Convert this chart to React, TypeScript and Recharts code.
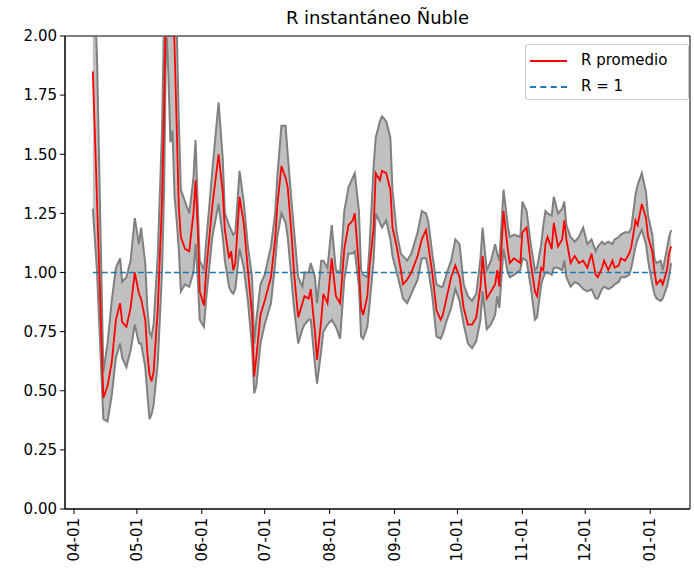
import React from 'react';
import {
    ComposedChart,
    Area,
    Line,
    XAxis,
    YAxis,
    ReferenceLine,
    ReferenceArea,
} from 'recharts';

/* ─── Data (day 0 = 1 April) ───────────────────────────────────────────────── */
const DAYS = [
    9, 11, 14, 16, 18, 20, 22, 23, 25, 27,
    29, 31, 32, 34, 35, 36, 37, 38, 40, 42,
    43, 44, 45, 46, 47, 48, 49, 50, 51, 53,
    55, 57, 58, 59, 60, 62, 63, 66, 69, 71,
    72, 74, 75, 76, 77, 79, 81, 83, 85, 86,
    87, 89, 91, 94, 96, 97, 99, 101, 102, 104,
    105, 107, 109, 110, 112, 113, 115, 116, 118, 119,
    121, 123, 125, 127, 129, 131, 133, 134, 136, 137,
    138, 140, 141, 143, 144, 146, 147, 149, 151, 152,
    154, 156, 157, 159, 161, 164, 166, 168, 169, 171,
    173, 175, 176, 178, 180, 182, 184, 186, 188, 190,
    192, 194, 195, 197, 199, 201, 202, 203, 205, 207,
    208, 210, 213, 214, 216, 218, 220, 221, 223, 224,
    225, 226, 228, 229, 231, 233, 234, 235, 237, 239,
    241, 243, 245, 247, 249, 250, 252, 253, 255, 257,
    258, 260, 261, 263, 265, 266, 268, 269, 271, 273,
    274, 276, 277, 278, 280, 281, 283, 284, 285,
];

const R_MEAN = [
    1.85, 1.30, 0.47, 0.52, 0.62, 0.80, 0.87, 0.79, 0.77, 0.85,
    1.00, 0.91, 0.89, 0.80, 0.66, 0.57, 0.54, 0.58, 0.85, 1.30,
    1.70, 2.20, 2.30, 2.35, 2.25, 1.95, 1.62, 1.28, 1.15, 1.10,
    1.09, 1.25, 1.39, 1.20, 0.92, 0.86, 1.00, 1.28, 1.50, 1.34,
    1.18, 1.06, 1.09, 1.01, 1.04, 1.32, 1.21, 1.01, 0.82, 0.56,
    0.64, 0.82, 0.88, 0.98, 1.14, 1.28, 1.45, 1.40, 1.36, 1.14,
    1.00, 0.81, 0.87, 0.90, 0.89, 0.93, 0.75, 0.63, 0.80, 0.91,
    0.87, 1.06, 0.90, 0.87, 1.10, 1.20, 1.22, 1.25, 1.02, 0.85,
    0.82, 0.90, 1.02, 1.19, 1.42, 1.39, 1.43, 1.42, 1.35, 1.19,
    1.11, 1.01, 0.95, 0.97, 1.00, 1.07, 1.14, 1.18, 1.12, 1.00,
    0.84, 0.80, 0.82, 0.90, 0.98, 1.03, 0.98, 0.85, 0.78, 0.78,
    0.81, 0.94, 1.07, 0.89, 0.92, 0.95, 1.01, 0.94, 1.26, 1.10,
    1.04, 1.06, 1.04, 1.17, 1.19, 1.04, 0.92, 0.90, 1.02, 1.01,
    1.12, 1.15, 1.10, 1.21, 1.11, 1.14, 1.22, 1.14, 1.04, 1.07,
    1.04, 1.05, 1.02, 1.08, 0.99, 0.98, 1.02, 1.05, 1.01, 1.05,
    1.02, 1.03, 1.06, 1.05, 1.08, 1.11, 1.22, 1.20, 1.29, 1.23,
    1.15, 1.09, 1.01, 0.95, 0.97, 0.95, 1.01, 1.08, 1.11,
];

const R_LOW = [
    1.27, 1.00, 0.38, 0.37, 0.48, 0.64, 0.70, 0.64, 0.60, 0.67,
    0.78, 0.70, 0.70, 0.60, 0.49, 0.38, 0.40, 0.44, 0.62, 1.00,
    1.35, 2.05, 1.85, 1.55, 1.60, 1.32, 1.22, 1.10, 0.92, 0.95,
    0.94, 1.00, 1.12, 0.98, 0.80, 0.77, 0.88, 1.15, 1.29, 1.15,
    1.05, 0.94, 0.92, 0.91, 0.93, 1.10, 1.02, 0.88, 0.68, 0.49,
    0.52, 0.70, 0.78, 0.87, 1.04, 1.15, 1.25, 1.21, 1.15, 0.95,
    0.85, 0.70, 0.76, 0.78, 0.80, 0.80, 0.61, 0.53, 0.67, 0.75,
    0.78, 0.80, 0.77, 0.72, 0.97, 1.08, 1.08, 1.09, 0.94, 0.73,
    0.72, 0.77, 0.86, 1.05, 1.25, 1.21, 1.19, 1.22, 1.14, 1.07,
    1.00, 0.93, 0.89, 0.87, 0.91, 0.97, 1.06, 1.06, 1.02, 0.90,
    0.73, 0.72, 0.74, 0.80, 0.85, 0.93, 0.88, 0.78, 0.70, 0.68,
    0.71, 0.80, 0.92, 0.76, 0.78, 0.82, 0.90, 0.85, 1.10, 1.00,
    0.98, 0.99, 1.01, 1.06, 1.05, 0.94, 0.80, 0.81, 0.95, 0.98,
    1.00, 1.00, 0.99, 1.02, 1.02, 1.01, 1.05, 0.98, 0.94, 0.96,
    0.95, 0.93, 0.92, 0.93, 0.89, 0.89, 0.93, 0.94, 0.93, 0.94,
    0.95, 0.96, 0.98, 0.98, 0.99, 1.02, 1.11, 1.14, 1.18, 1.12,
    1.05, 0.95, 0.91, 0.89, 0.88, 0.89, 0.94, 0.98, 1.04,
];

const R_HIGH = [
    2.40, 1.90, 0.58, 0.70, 0.88, 1.02, 1.06, 0.96, 0.98, 1.05,
    1.23, 1.12, 1.19, 1.04, 0.85, 0.75, 0.73, 0.78, 1.08, 1.60,
    2.10, 2.60, 2.70, 2.70, 2.60, 2.40, 2.05, 1.65, 1.35, 1.30,
    1.25, 1.40, 1.56, 1.30, 1.05, 1.01, 1.12, 1.43, 1.72, 1.48,
    1.25, 1.20, 1.18, 1.16, 1.17, 1.43, 1.30, 1.11, 0.98, 0.70,
    0.80, 0.95, 0.99, 1.11, 1.25, 1.40, 1.62, 1.62, 1.50, 1.28,
    1.18, 0.98, 0.94, 1.00, 1.00, 1.04, 0.98, 0.87, 1.05, 1.05,
    1.02, 1.20, 1.01, 1.00, 1.26, 1.36, 1.40, 1.42, 1.26, 1.01,
    0.99, 0.98, 1.10, 1.45, 1.57, 1.64, 1.66, 1.64, 1.57, 1.35,
    1.17, 1.08, 1.07, 1.05, 1.08, 1.17, 1.26, 1.25, 1.22, 1.08,
    0.95, 0.94, 0.94, 1.00, 1.05, 1.14, 1.12, 0.95, 0.90, 0.88,
    0.91, 1.06, 1.19, 1.01, 1.05, 1.12, 1.08, 1.05, 1.35, 1.20,
    1.15, 1.16, 1.15, 1.30, 1.26, 1.12, 1.01, 1.02, 1.12, 1.20,
    1.26, 1.25, 1.24, 1.32, 1.25, 1.27, 1.30, 1.20, 1.15, 1.13,
    1.15, 1.19, 1.12, 1.14, 1.09, 1.11, 1.13, 1.12, 1.13, 1.12,
    1.14, 1.15, 1.16, 1.17, 1.17, 1.19, 1.33, 1.37, 1.42, 1.34,
    1.24, 1.16, 1.06, 1.04, 1.05, 1.01, 1.10, 1.15, 1.18,
];

const MONTH_TICKS = [0, 30, 61, 91, 122, 153, 183, 214, 244, 275];
const MONTH_LABELS = ['04-01', '05-01', '06-01', '07-01', '08-01', '09-01', '10-01', '11-01', '12-01', '01-01'];
const Y_TICKS = [0, 0.25, 0.5, 0.75, 1, 1.25, 1.5, 1.75, 2];

const X_MIN = -4.3;
const X_MAX = 294;
const FONT = '"DejaVu Sans", sans-serif';

const rows = DAYS.map((day, i) => ({
    day,
    mean: R_MEAN[i],
    low: R_LOW[i],
    high: R_HIGH[i],
    band: [R_LOW[i], R_HIGH[i]],
}));

/* ─── Rotated date tick ────────────────────────────────────────────────────── */
function DateTick({ x, y, payload }: any) {
    const idx = MONTH_TICKS.indexOf(payload.value);
    return (
        <text
            x={x}
            y={y}
            transform={`rotate(-90, ${x}, ${y})`}
            textAnchor="end"
            dominantBaseline="central"
            fontSize={15}
            fontFamily={FONT}
            fill="#000"
        >
            {MONTH_LABELS[idx]}
        </text>
    );
}

export default function App() {
    return (
        <div style={{ position: 'absolute', left: 0, top: 0, width: 694, height: 577, background: '#fff', fontFamily: FONT }}>
            <div style={{ position: 'absolute', left: 65, width: 625, top: 6, textAlign: 'center', fontSize: 18, lineHeight: '24px' }}>
                R instantáneo Ñuble
            </div>

            <ComposedChart width={694} height={577} data={rows} margin={{ top: 36, right: 4, bottom: 8, left: 8 }}>
                <XAxis
                    dataKey="day"
                    type="number"
                    domain={[X_MIN, X_MAX]}
                    ticks={MONTH_TICKS}
                    tick={<DateTick />}
                    tickSize={5}
                    tickMargin={4}
                    stroke="#000"
                    height={60}
                    allowDataOverflow
                />
                <YAxis
                    type="number"
                    domain={[0, 2]}
                    ticks={Y_TICKS}
                    tickFormatter={(v: number) => v.toFixed(2)}
                    tickSize={5}
                    tickMargin={3}
                    stroke="#000"
                    tick={{ fill: '#000', fontSize: 15, fontFamily: FONT }}
                    width={57}
                    allowDataOverflow
                />
                <Area
                    type="linear"
                    dataKey="band"
                    fill="#c0c0c0"
                    fillOpacity={1}
                    stroke="none"
                    isAnimationActive={false}
                />
                <Line type="linear" dataKey="low" stroke="#808080" strokeWidth={2} dot={false} isAnimationActive={false} />
                <Line type="linear" dataKey="high" stroke="#808080" strokeWidth={2} dot={false} isAnimationActive={false} />
                <ReferenceLine
                    segment={[{ x: DAYS[0], y: 1 }, { x: DAYS[DAYS.length - 1], y: 1 }]}
                    stroke="#1f77b4"
                    strokeWidth={1.6}
                    strokeDasharray="6 3"
                />
                <Line type="linear" dataKey="mean" stroke="#ff0000" strokeWidth={1.8} dot={false} isAnimationActive={false} />
                {/* frame (matplotlib spines) */}
                <ReferenceArea x1={X_MIN} x2={X_MAX} y1={0} y2={2} fill="none" stroke="#000" strokeWidth={1} />
            </ComposedChart>

            {/* legend */}
            <div
                style={{
                    position: 'absolute',
                    left: 525,
                    top: 44,
                    width: 164,
                    height: 56,
                    boxSizing: 'border-box',
                    border: '1px solid #cccccc',
                    borderRadius: 3,
                    background: 'rgba(255,255,255,0.8)',
                    fontSize: 15,
                }}
            >
                <div style={{ position: 'absolute', left: 4, top: 15, width: 37, borderTop: '2px solid #ff0000' }} />
                <div style={{ position: 'absolute', left: 55, top: 5, lineHeight: '20px' }}>R promedio</div>
                <div style={{ position: 'absolute', left: 4, top: 41, width: 37, borderTop: '2px dashed #1f77b4' }} />
                <div style={{ position: 'absolute', left: 55, top: 31, lineHeight: '20px' }}>R = 1</div>
            </div>
        </div>
    );
}
